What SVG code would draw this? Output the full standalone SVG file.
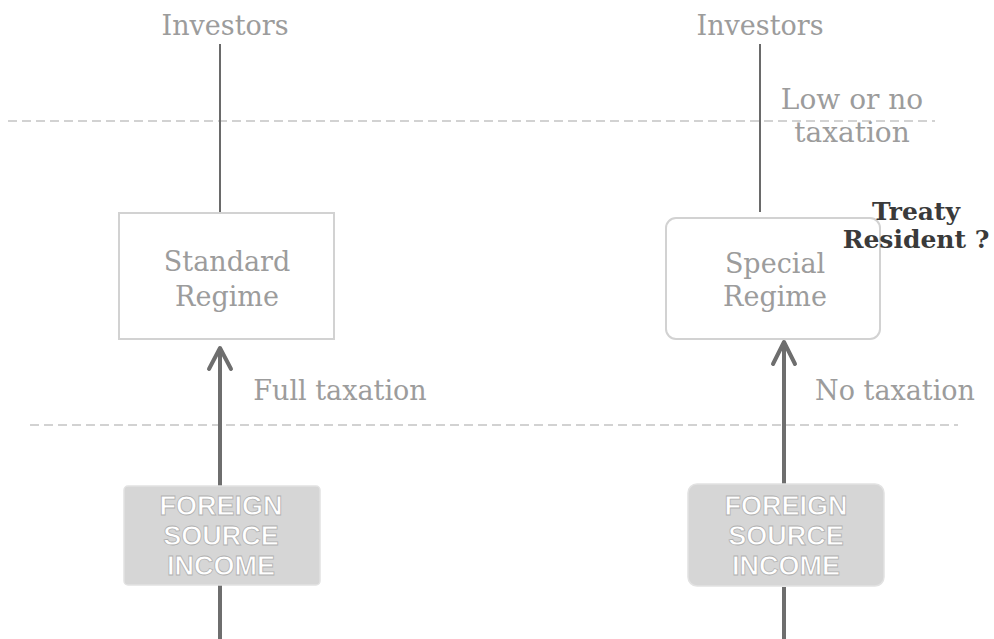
<svg xmlns="http://www.w3.org/2000/svg" width="994" height="639" viewBox="0 0 994 639">
  <defs>
    <filter id="soft" x="-10%" y="-10%" width="120%" height="120%">
      <feGaussianBlur stdDeviation="1.2"/>
    </filter>
  </defs>
  <style>
    .lbl { font-family: "DejaVu Serif", "Liberation Serif", serif; font-size: 27px; fill: #9c9c9c; text-anchor: middle; }
    .bold { font-family: "DejaVu Serif", "Liberation Serif", serif; font-size: 25px; font-weight: bold; fill: #3a3a3a; text-anchor: middle; }
    .inc { font-family: "Liberation Sans", Arial, sans-serif; font-size: 27px; font-weight: bold; fill: #ffffff; stroke: #b0b0b0; stroke-width: 0.8; text-anchor: middle; }
    .box { fill: #ffffff; stroke: #d2d2d2; stroke-width: 2; }
    .boxedge { fill: none; stroke: #bdbdbd; stroke-width: 2; }
    .src { fill: #d6d6d6; stroke: #e2e2e2; stroke-width: 1.5; }
    .thin { stroke: #6a6a6a; stroke-width: 2; fill: none; }
    .thick { stroke: #6e6e6e; stroke-width: 4; fill: none; }
    .head { stroke: #6e6e6e; stroke-width: 4; fill: none; stroke-linecap: round; stroke-linejoin: round; }
    .dash { stroke: #c4c4c4; stroke-width: 1.5; stroke-dasharray: 9 5; fill: none; }
  </style>

  <!-- tax boundaries -->
  <g id="boundaries">
    <line class="dash" x1="8" y1="121" x2="935" y2="121"/>
    <line class="dash" x1="30" y1="425" x2="958" y2="425"/>
  </g>

  <!-- connectors -->
  <g id="connectors">
    <line class="thin" x1="220" y1="44" x2="220" y2="212"/>
    <line class="thin" x1="760" y1="44" x2="760" y2="212"/>
    <line class="thick" x1="220" y1="486" x2="220" y2="350"/>
    <polyline class="head" points="209,369 220,348 231,369"/>
    <line class="thick" x1="784" y1="484" x2="784" y2="344"/>
    <polyline class="head" points="773,364 784,342 795,364"/>
    <line class="thick" x1="220" y1="585" x2="220" y2="639"/>
    <line class="thick" x1="784" y1="587" x2="784" y2="639"/>
  </g>

  <g id="investors-left">
    <text class="lbl" x="225" y="35">Investors</text>
  </g>
  <g id="investors-right">
    <text class="lbl" x="760" y="35">Investors</text>
  </g>

  <g id="low-tax-label">
    <text class="lbl" x="852" y="109" style="font-size:28px">Low or no</text>
    <text class="lbl" x="852" y="142" style="font-size:28px">taxation</text>
  </g>

  <g id="standard-regime">
    <rect class="box" x="119" y="213" width="215" height="126"/>
    <line class="boxedge" x1="120" y1="216" x2="120" y2="336" filter="url(#soft)"/>
    <text class="lbl" x="227" y="271">Standard</text>
    <text class="lbl" x="227" y="306">Regime</text>
  </g>

  <g id="special-regime">
    <rect class="box" x="666" y="218" width="214" height="121" rx="10"/>
    <line class="boxedge" x1="667" y1="226" x2="667" y2="330" filter="url(#soft)"/>
    <text class="lbl" x="775" y="273">Special</text>
    <text class="lbl" x="775" y="306">Regime</text>
  </g>

  <g id="treaty-note">
    <text class="bold" x="916" y="220">Treaty</text>
    <text class="bold" x="916" y="248">Resident ?</text>
  </g>

  <g id="tax-labels">
    <text class="lbl" x="340" y="400">Full taxation</text>
    <text class="lbl" x="895" y="400">No taxation</text>
  </g>

  <g id="income-left">
    <rect class="src" x="124" y="486" width="196" height="99" rx="4"/>
    <text class="inc" x="221" y="515">FOREIGN</text>
    <text class="inc" x="221" y="545">SOURCE</text>
    <text class="inc" x="221" y="575">INCOME</text>
  </g>

  <g id="income-right">
    <rect class="src" x="688" y="484" width="196" height="102" rx="9"/>
    <text class="inc" x="786" y="515">FOREIGN</text>
    <text class="inc" x="786" y="545">SOURCE</text>
    <text class="inc" x="786" y="575">INCOME</text>
  </g>
</svg>
